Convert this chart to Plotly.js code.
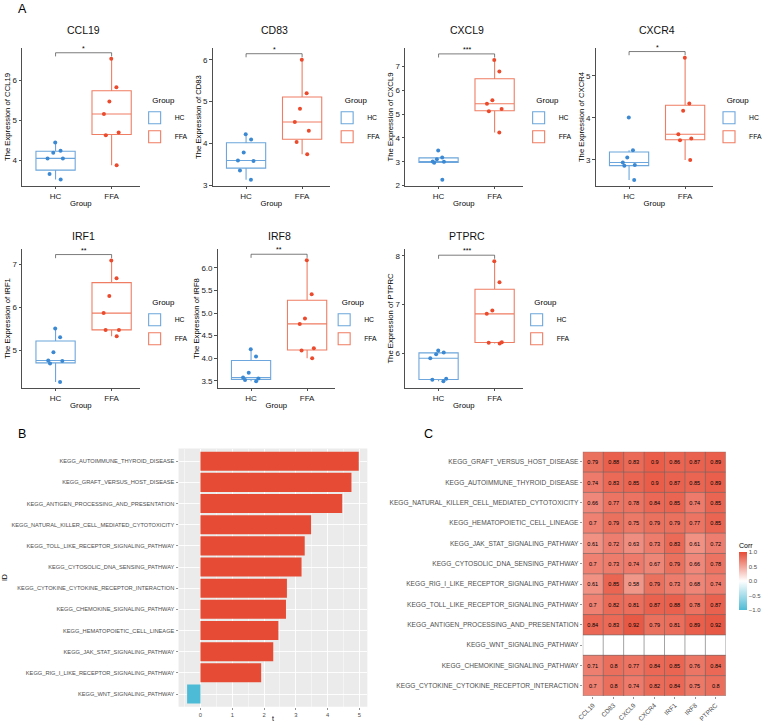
<!DOCTYPE html>
<html><head><meta charset="utf-8">
<script src="https://cdn.plot.ly/plotly-3.0.1.min.js"></script>
<style>html,body{margin:0;padding:0;background:#fff;}#chart{width:767px;height:722px;}</style>
</head><body><div id="chart"></div>
<script>
// ---------- DATA ----------
const genes = ['CCL19','CD83','CXCL9','CXCR4','IRF1','IRF8','PTPRC'];
const groups = ['HC','FFA'];
const CCL19_HC = [4.44, 4.23, 4.18, 4.04, 4.04, 3.65, 3.51];
const CCL19_FFA = [6.53, 5.82, 5.46, 5.15, 4.69, 4.62, 3.87];
const CD83_HC = [4.22, 4.09, 3.78, 3.59, 3.58, 3.35, 3.13];
const CD83_FFA = [6.00, 5.20, 4.83, 4.51, 4.30, 4.03, 3.74];
const CXCL9_HC = [3.47, 3.18, 3.10, 3.01, 3.00, 2.96, 2.24];
const CXCL9_FFA = [7.28, 6.79, 5.58, 5.44, 5.22, 5.12, 4.23];
const CXCR4_HC = [4.01, 3.23, 3.06, 2.94, 2.88, 2.86, 2.52];
const CXCR4_FFA = [5.43, 4.34, 4.17, 3.61, 3.51, 3.47, 3.00];
const IRF1_HC = [5.50, 5.30, 4.95, 4.76, 4.75, 4.69, 4.26];
const IRF1_FFA = [7.08, 6.67, 6.26, 5.86, 5.47, 5.47, 5.32];
const IRF8_HC = [4.20, 4.04, 3.68, 3.57, 3.55, 3.52, 3.49];
const IRF8_FFA = [6.17, 5.42, 4.88, 4.76, 4.22, 4.17, 4.00];
const PTPRC_HC = [6.06, 6.02, 5.98, 5.90, 5.48, 5.46, 5.43];
const PTPRC_FFA = [7.89, 7.46, 6.88, 6.81, 6.23, 6.22, 6.20];
const sigLabels = ['*','*','***','*','**','**','***'];

const barPathways = ['KEGG_AUTOIMMUNE_THYROID_DISEASE','KEGG_GRAFT_VERSUS_HOST_DISEASE','KEGG_ANTIGEN_PROCESSING_AND_PRESENTATION','KEGG_NATURAL_KILLER_CELL_MEDIATED_CYTOTOXICITY','KEGG_TOLL_LIKE_RECEPTOR_SIGNALING_PATHWAY','KEGG_CYTOSOLIC_DNA_SENSING_PATHWAY','KEGG_CYTOKINE_CYTOKINE_RECEPTOR_INTERACTION','KEGG_CHEMOKINE_SIGNALING_PATHWAY','KEGG_HEMATOPOIETIC_CELL_LINEAGE','KEGG_JAK_STAT_SIGNALING_PATHWAY','KEGG_RIG_I_LIKE_RECEPTOR_SIGNALING_PATHWAY','KEGG_WNT_SIGNALING_PATHWAY'];
const barT = [4.98, 4.75, 4.46, 3.48, 3.28, 3.18, 2.72, 2.69, 2.45, 2.29, 1.91, -0.42];

const heatPathways = ['KEGG_GRAFT_VERSUS_HOST_DISEASE','KEGG_AUTOIMMUNE_THYROID_DISEASE','KEGG_NATURAL_KILLER_CELL_MEDIATED_CYTOTOXICITY','KEGG_HEMATOPOIETIC_CELL_LINEAGE','KEGG_JAK_STAT_SIGNALING_PATHWAY','KEGG_CYTOSOLIC_DNA_SENSING_PATHWAY','KEGG_RIG_I_LIKE_RECEPTOR_SIGNALING_PATHWAY','KEGG_TOLL_LIKE_RECEPTOR_SIGNALING_PATHWAY','KEGG_ANTIGEN_PROCESSING_AND_PRESENTATION','KEGG_WNT_SIGNALING_PATHWAY','KEGG_CHEMOKINE_SIGNALING_PATHWAY','KEGG_CYTOKINE_CYTOKINE_RECEPTOR_INTERACTION'];
const corrValues = [
  [0.79,0.88,0.83,0.9,0.86,0.87,0.89],
  [0.74,0.83,0.85,0.9,0.87,0.85,0.89],
  [0.66,0.77,0.78,0.84,0.85,0.74,0.85],
  [0.7,0.79,0.75,0.79,0.79,0.77,0.85],
  [0.61,0.72,0.63,0.73,0.83,0.61,0.72],
  [0.7,0.73,0.74,0.67,0.79,0.66,0.78],
  [0.61,0.85,0.58,0.79,0.73,0.68,0.74],
  [0.7,0.82,0.81,0.87,0.88,0.78,0.87],
  [0.84,0.83,0.92,0.79,0.81,0.89,0.92],
  [null,null,null,null,null,null,null],
  [0.71,0.8,0.77,0.84,0.85,0.76,0.84],
  [0.7,0.8,0.74,0.82,0.84,0.75,0.8]
];

// ---------- LAYOUT CONFIG ----------
const W = 767, H = 722;
const FONT = 'Liberation Sans, Arial, Helvetica, sans-serif';
const hcData = [CCL19_HC, CD83_HC, CXCL9_HC, CXCR4_HC, IRF1_HC, IRF8_HC, PTPRC_HC];
const ffaData = [CCL19_FFA, CD83_FFA, CXCL9_FFA, CXCR4_FFA, IRF1_FFA, IRF8_FFA, PTPRC_FFA];
const panels = [
  {left:22, top:48, bottom:186, range:[3.35,6.80], dtick:1, fmt:'', titleY:30.5, legX:135, legY:93},
  {left:213, top:48, bottom:186, range:[2.98,6.28], dtick:1, fmt:'', titleY:30.5, legX:328, legY:93},
  {left:406, top:48, bottom:186, range:[1.98,7.78], dtick:1, fmt:'', titleY:30.5, legX:520, legY:93},
  {left:597, top:48, bottom:186, range:[2.38,5.66], dtick:1, fmt:'', titleY:30.5, legX:711, legY:93},
  {left:22, top:249, bottom:388, range:[4.12,7.35], dtick:1, fmt:'', titleY:236, legX:135, legY:295},
  {left:218, top:249, bottom:388, range:[3.34,6.42], dtick:0.5, fmt:'.1f', titleY:236, legX:325, legY:295},
  {left:406, top:249, bottom:388, range:[5.29,8.14], dtick:1, fmt:'', titleY:236, legX:518, legY:295}
];
const PW = 118;
const HC_PT = '#3C89D3', HC_LN = '#6CA6DC', FFA_PT = '#EC4A2C', FFA_LN = '#EF7D63';

const traces = [];
const layout = {
  width: W, height: H,
  margin: {l:0, r:0, t:0, b:0},
  paper_bgcolor: '#fff', plot_bgcolor: 'rgba(0,0,0,0)',
  font: {family: FONT, color: '#000'},
  boxmode: 'overlay', boxgap: 0.3, boxgroupgap: 0,
  bargap: 0.1,
  showlegend: true,
  shapes: [], annotations: []
};

genes.forEach((g, k) => {
  const s = k === 0 ? '' : String(k + 1);
  const legName = k === 0 ? 'legend' : 'legend' + (k + 1);
  const p = panels[k];
  const hc = hcData[k], ffa = ffaData[k];
  [[hc, 'HC', HC_PT, HC_LN], [ffa, 'FFA', FFA_PT, FFA_LN]].forEach(([vals, name, pc, lc]) => {
    traces.push({
      type: 'box', x: vals.map(() => name), y: vals, name: name,
      xaxis: 'x' + s, yaxis: 'y' + s, legend: legName,
      boxpoints: 'all', jitter: 0.5, pointpos: 0,
      marker: {color: pc, size: 4},
      line: {color: lc, width: 1.1},
      fillcolor: 'rgba(255,255,255,0)', whiskerwidth: 0, hoverinfo: 'skip'
    });
  });
  layout['xaxis' + s] = {
    domain: [p.left / W, (p.left + PW) / W], anchor: 'y' + s,
    type: 'category', categoryorder: 'array', categoryarray: groups, range: [-0.6, 1.5],
    showline: true, linecolor: '#222', linewidth: 0.8, ticks: 'outside', ticklen: 2.5, tickcolor: '#222', tickwidth: 0.8,
    tickfont: {size: 8, color: '#1a1a1a'}, showgrid: false, zeroline: false,
    title: {text: 'Group', font: {size: 7.7, color: '#000'}, standoff: 0}
  };
  layout['yaxis' + s] = {
    domain: [1 - p.bottom / H, 1 - p.top / H], anchor: 'x' + s,
    range: p.range, dtick: p.dtick, tickformat: p.fmt,
    showline: true, linecolor: '#222', linewidth: 0.8, ticks: 'outside', ticklen: 2.5, tickcolor: '#222', tickwidth: 0.8,
    tickfont: {size: 8, color: '#1a1a1a'}, showgrid: false, zeroline: false,
    title: {text: 'The Expression of ' + g, font: {size: 7.7, color: '#000'}, standoff: 0}
  };
  layout[legName] = {
    x: p.legX / W, y: 1 - p.legY / H, xanchor: 'left', yanchor: 'top',
    title: {text: 'Group', font: {size: 7.9, color: '#000'}, side: 'top center'},
    font: {size: 6.8, color: '#000'}, bgcolor: 'rgba(0,0,0,0)', itemwidth: 30, tracegroupgap: 0
  };
  // significance bracket computed from data
  const all = hc.concat(ffa);
  const mx = Math.max(...all), mn = Math.min(...all), span = mx - mn;
  const yb = mx + 0.05 * span, tip = 0.03 * span;
  const sl = {color: '#444', width: 0.7};
  layout.shapes.push(
    {type:'line', xref:'x'+s, yref:'y'+s, x0:'HC', x1:'HC', y0:yb - tip, y1:yb, line:sl},
    {type:'line', xref:'x'+s, yref:'y'+s, x0:'HC', x1:'FFA', y0:yb, y1:yb, line:sl},
    {type:'line', xref:'x'+s, yref:'y'+s, x0:'FFA', x1:'FFA', y0:yb - tip, y1:yb, line:sl}
  );
  layout.annotations.push(
    {xref:'x'+s, yref:'y'+s, x:0.5, y:yb, text:sigLabels[k], showarrow:false, yanchor:'bottom', yshift:-1, font:{size:7, color:'#000'}},
    {xref:'paper', yref:'paper', x:(p.left + PW * 0.6 / 2.1 + PW * 0.5 / 2.1) / W, y:1 - p.titleY / H, text:g, showarrow:false, xanchor:'center', yanchor:'middle', font:{size:10.5, color:'#111'}}
  );
});

// ---------- Panel B: bar chart ----------
traces.push({
  type: 'bar', orientation: 'h', x: barT, y: barPathways, xaxis: 'x8', yaxis: 'y8',
  marker: {color: barT.map(v => v > 0 ? '#E64B35' : '#4DBBD5'), line: {width: 0}},
  showlegend: false, hoverinfo: 'skip'
});
layout.xaxis8 = {
  domain: [179 / W, 368.3 / W], anchor: 'y8', range: [-0.69, 5.25], tick0: 0, dtick: 1,
  showgrid: true, gridcolor: '#fff', gridwidth: 0.9,
  minor: {dtick: 0.5, showgrid: true, gridcolor: '#fff', gridwidth: 0.45},
  zeroline: false, showline: false, ticks: 'outside', ticklen: 2, tickcolor: '#4d4d4d', tickwidth: 0.6,
  tickfont: {size: 5.8, color: '#4d4d4d'},
  title: {text: 't', font: {size: 7, color: '#000'}, standoff: 1}
};
layout.yaxis8 = {
  domain: [1 - 706.7 / H, 1 - 448.5 / H], anchor: 'x8', type: 'category',
  categoryorder: 'array', categoryarray: barPathways, range: [11.6, -0.6],
  showgrid: true, gridcolor: '#fff', gridwidth: 0.9, zeroline: false, showline: false,
  ticks: 'outside', ticklen: 2, tickcolor: '#4d4d4d', tickwidth: 0.6,
  tickfont: {size: 5.7, color: '#4d4d4d'},
  title: {text: 'ID', font: {size: 7, color: '#000'}, standoff: 2}
};
layout.shapes.push({type:'rect', xref:'x8 domain', yref:'y8 domain', x0:0, x1:1, y0:0, y1:1, fillcolor:'#EBEBEB', line:{width:0}, layer:'below'});

// ---------- Panel C: heatmap ----------
traces.push({
  type: 'heatmap', x: genes, y: heatPathways, z: corrValues, xaxis: 'x9', yaxis: 'y9',
  text: corrValues.map(r => r.map(v => v === null ? '' : String(v))),
  texttemplate: '%{text}', textfont: {size: 5.6, color: '#000', family: FONT},
  colorscale: [[0, '#4DBBD5'], [0.5, '#FFFFFF'], [1, '#E64B35']], zmin: -1, zmax: 1,
  showlegend: false, hoverinfo: 'skip',
  colorbar: {
    x: 741 / W, xanchor: 'left', y: 1 - 540 / H, yanchor: 'top', len: 70 / H, lenmode: 'fraction',
    thickness: 8, outlinewidth: 0, xpad: 0, ypad: 0,
    title: {text: 'Corr', font: {size: 7, color: '#000'}, side: 'top'},
    tickvals: [-1, -0.5, 0, 0.5, 1], tickformat: '.1f', ticks: '',
    tickfont: {size: 6, color: '#4d4d4d'}
  }
});
layout.xaxis9 = {
  domain: [584.3 / W, 727.7 / W], anchor: 'y9', type: 'category', categoryorder: 'array', categoryarray: genes,
  range: [-0.5, genes.length - 0.5], tickangle: -45, ticks: 'outside', ticklen: 2, tickcolor: '#4d4d4d', tickwidth: 0.6,
  tickfont: {size: 6.5, color: '#4d4d4d'}, showgrid: false, zeroline: false, showline: false
};
layout.yaxis9 = {
  domain: [1 - 696 / H, 1 - 451.7 / H], anchor: 'x9', type: 'category', categoryorder: 'array', categoryarray: heatPathways,
  range: [heatPathways.length - 0.5, -0.5], ticks: 'outside', ticklen: 2, tickcolor: '#4d4d4d', tickwidth: 0.6,
  tickfont: {size: 6.6, color: '#4d4d4d'}, showgrid: false, zeroline: false, showline: false
};
for (let i = 0; i <= genes.length; i++) {
  layout.shapes.push({type:'line', xref:'x9', yref:'y9', x0:i - 0.5, x1:i - 0.5, y0:-0.5, y1:heatPathways.length - 0.5, line:{color:'#666', width:0.6}});
}
for (let j = 0; j <= heatPathways.length; j++) {
  layout.shapes.push({type:'line', xref:'x9', yref:'y9', x0:-0.5, x1:genes.length - 0.5, y0:j - 0.5, y1:j - 0.5, line:{color:'#666', width:0.6}});
}

// panel letters
[['A', 22.7, 8.5], ['B', 21.7, 433.5], ['C', 430, 433.5]].forEach(([t, px, py]) => {
  layout.annotations.push({xref:'paper', yref:'paper', x:px / W, y:1 - py / H, text:t, showarrow:false, xanchor:'center', yanchor:'middle', font:{size:12.5, color:'#000'}});
});

Plotly.newPlot('chart', traces, layout, {staticPlot: true, displayModeBar: false});
</script>
</body></html>
